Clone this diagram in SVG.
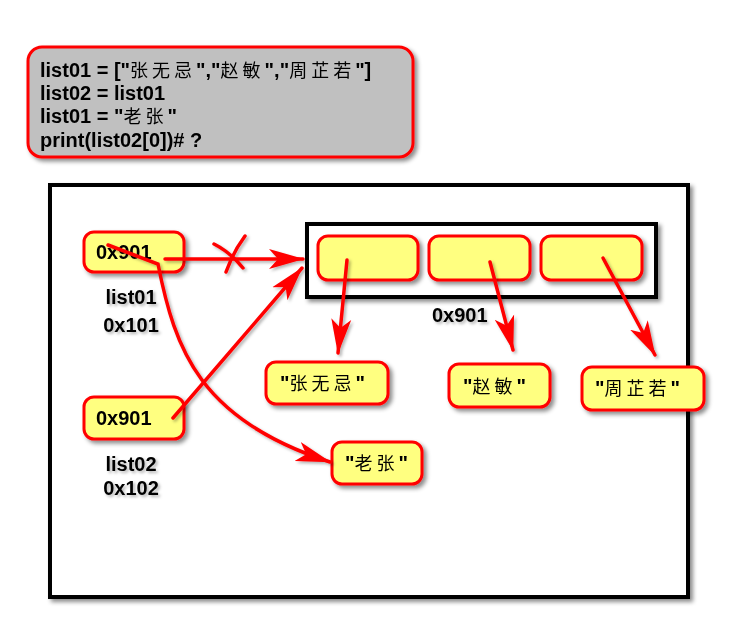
<svg xmlns="http://www.w3.org/2000/svg" width="732" height="634" viewBox="0 0 732 634">
<defs>
<filter id="sh" x="-10%" y="-10%" width="130%" height="130%">
<feDropShadow dx="3" dy="3" stdDeviation="2" flood-color="#000" flood-opacity="0.45"/>
</filter>
<filter id="tsh" x="-10%" y="-20%" width="130%" height="150%">
<feDropShadow dx="2" dy="2" stdDeviation="1.5" flood-color="#000" flood-opacity="0.3"/>
</filter>
<marker id="ah" markerUnits="userSpaceOnUse" markerWidth="36" markerHeight="22" viewBox="0 0 36 22" refX="34" refY="11" orient="auto">
<path d="M0,1 L35,11 L0,21 L9,11 z" fill="#ff0000"/>
</marker>
</defs>
<style>
.box{fill:#ffff80;stroke:#ff0000;stroke-width:3}
.t{font-family:"Liberation Sans",Arial,"Noto Sans CJK SC",sans-serif;font-weight:bold;font-size:20px;fill:#000}
.cn{font-family:"Noto Sans CJK SC","Noto Sans CJK JP",sans-serif;font-weight:normal;font-size:18px;letter-spacing:4px}
.lbl{text-anchor:middle}
.ln{fill:none;stroke:#ff0000;stroke-width:3.5;stroke-linecap:round}
</style>

<g id="code" filter="url(#sh)">
<rect x="28" y="47" width="385" height="110" rx="14" fill="#c0c0c0" stroke="#ff0000" stroke-width="3"/>
<text class="t" x="40" y="77">list01 = ["<tspan class="cn">张无忌</tspan>","<tspan class="cn">赵敏</tspan>","<tspan class="cn">周芷若</tspan>"]</text>
<text class="t" x="40" y="100">list02 = list01</text>
<text class="t" x="40" y="123">list01 = "<tspan class="cn">老张</tspan>"</text>
<text class="t" x="40" y="147">print(list02[0])# ?</text>
</g>

<g id="memory" filter="url(#sh)">
<rect x="50" y="185" width="638" height="412" fill="#ffffff" stroke="#000" stroke-width="4"/>
</g>

<g id="array" filter="url(#sh)">
<rect x="307" y="224" width="349" height="73" fill="#ffffff" stroke="#000" stroke-width="4"/>
</g>
<g id="cell0" filter="url(#sh)"><rect class="box" x="318" y="236" width="100" height="44" rx="10"/></g>
<g id="cell1" filter="url(#sh)"><rect class="box" x="429" y="236" width="101" height="44" rx="10"/></g>
<g id="cell2" filter="url(#sh)"><rect class="box" x="541" y="236" width="101" height="44" rx="10"/></g>
<g id="arraylabel" filter="url(#tsh)"><text class="t" x="432" y="322">0x901</text></g>

<g id="var1" filter="url(#sh)">
<rect class="box" x="84" y="232" width="100" height="40" rx="10"/>
<text class="t" x="96" y="259">0x901</text>
</g>
<g id="var1label" filter="url(#tsh)">
<text class="t lbl" x="131" y="304">list01</text>
<text class="t lbl" x="131" y="332">0x101</text>
</g>

<g id="var2" filter="url(#sh)">
<rect class="box" x="84" y="397" width="100" height="42" rx="10"/>
<text class="t" x="96" y="425">0x901</text>
</g>
<g id="var2label" filter="url(#tsh)">
<text class="t lbl" x="131" y="471">list02</text>
<text class="t lbl" x="131" y="495">0x102</text>
</g>

<g id="s0" filter="url(#sh)">
<rect class="box" x="266" y="362" width="122" height="42" rx="10"/>
<text class="t" x="280" y="390">"<tspan class="cn">张无忌</tspan>"</text>
</g>
<g id="s1" filter="url(#sh)">
<rect class="box" x="449" y="364" width="101" height="43" rx="10"/>
<text class="t" x="463" y="393">"<tspan class="cn">赵敏</tspan>"</text>
</g>
<g id="s2" filter="url(#sh)">
<rect class="box" x="582" y="367" width="122" height="43" rx="10"/>
<text class="t" x="595" y="395">"<tspan class="cn">周芷若</tspan>"</text>
</g>
<g id="s3" filter="url(#sh)">
<rect class="box" x="332" y="442" width="90" height="42" rx="10"/>
<text class="t" x="345" y="470">"<tspan class="cn">老张</tspan>"</text>
</g>

<g id="connectors" filter="url(#tsh)">
<path class="ln" d="M165,259 L303,259" marker-end="url(#ah)"/>
<path class="ln" d="M214,244 Q230,252 243,268"/>
<path class="ln" d="M245,236 Q233,252 226,272"/>
<path class="ln" d="M173,418 L302,268" marker-end="url(#ah)"/>
<path class="ln" d="M108,245 L158,264 C175,350 200,420 330,462" marker-end="url(#ah)"/>
<path class="ln" d="M347,260 L338,353" marker-end="url(#ah)"/>
<path class="ln" d="M490,262 L513,350" marker-end="url(#ah)"/>
<path class="ln" d="M603,258 L655,355" marker-end="url(#ah)"/>
</g>
</svg>
